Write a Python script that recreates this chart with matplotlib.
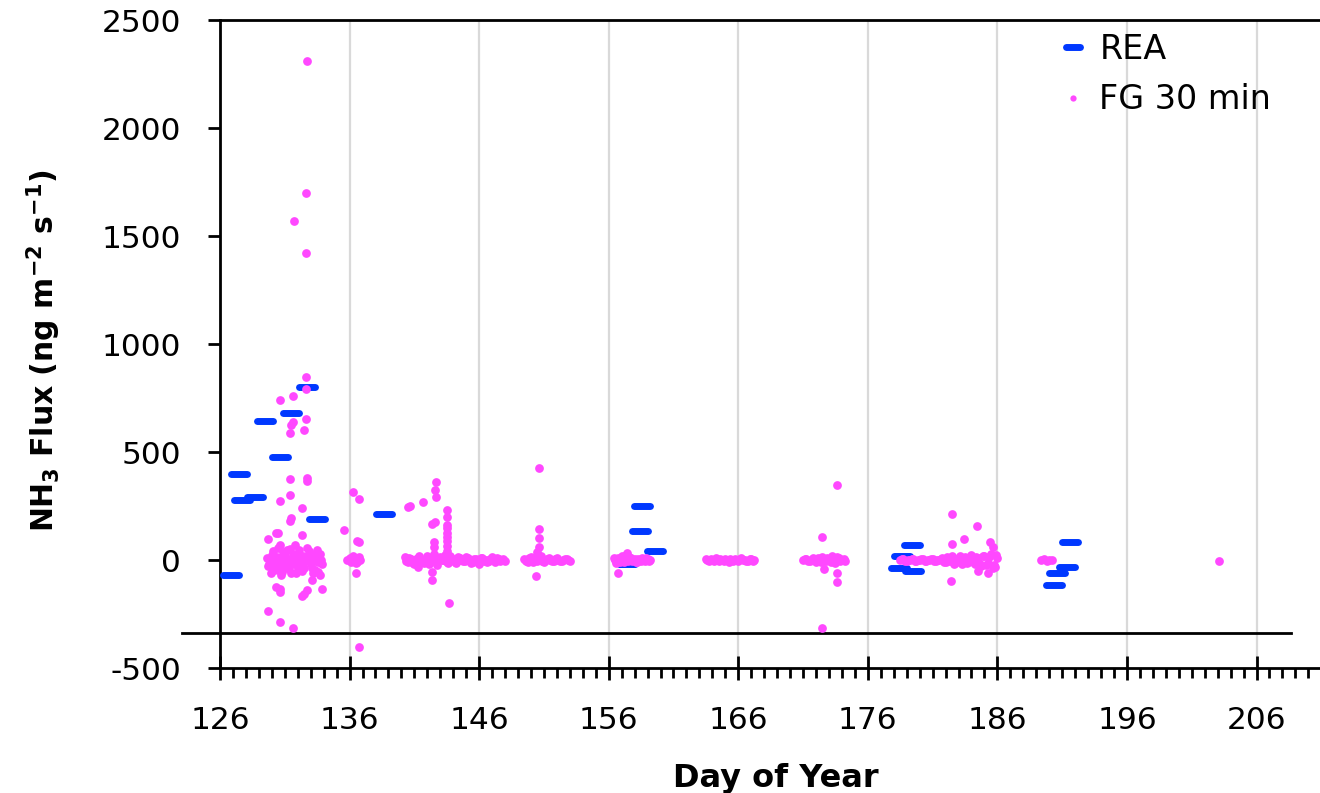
import matplotlib.pyplot as plt
from matplotlib.lines import Line2D
from matplotlib.markers import MarkerStyle
from matplotlib.ticker import MultipleLocator

# REA flux (one value per sampling period)
rea_day = [126.85, 127.5, 127.7, 128.7, 129.5, 130.6, 131.5, 132.7, 133.5,
           138.65, 157.4, 158.4, 158.6, 159.6, 178.4, 178.6, 179.4, 179.5,
           190.4, 190.6, 191.4, 191.6]
rea_flux = [-70, 400, 276, 290, 643, 475, 682, 800, 190,
            213, -19, 133, 251, 40, -36, 18, 71, -49,
            -117, -62, -31, 83]

# FG 30 min flux, read per measurement period
fg1_day = [132.7, 132.6, 131.7, 132.6, 132.6, 132.6, 130.6, 131.6, 131.6, 131.5,
           132.6, 131.4, 132.5, 132.7, 132.7, 131.4, 131.4, 130.6, 132.3, 131.5,
           131.4, 132.3, 130.5, 130.3, 129.7, 130.6, 131.8, 131.4, 130.3, 130.6,
           130.6, 133.1, 132.7, 132.3, 132.5, 133.9, 129.7, 130.6, 131.6, 130.7,
           133.6, 133.7, 130.2, 131.9,
           129.6, 129.8, 130.0, 130.2, 130.4, 130.6, 130.8, 131.0, 131.2, 131.4,
           131.6, 131.8, 132.0, 132.2, 132.4, 132.6, 132.8, 133.0, 133.2, 133.4,
           133.6, 133.8, 129.7, 130.1, 130.5, 130.9, 131.3, 131.7, 132.1, 132.5,
           132.9, 133.3, 133.7, 130.0, 131.0, 132.0, 133.0,
           129.9, 130.4, 130.8, 131.2, 131.5, 131.9, 132.3, 132.7, 133.1, 133.5,
           133.9, 130.5, 131.1, 132.2, 133.2]
fg1_flux = [2311, 1701, 1570, 1420, 847, 791, 743, 759, 640, 625,
            652, 586, 602, 380, 368, 373, 303, 275, 243, 195,
            181, 116, 124, 124, 98, 68, 70, 50, -126, -134,
            -150, -94, -137, -167, -157, -133, -237, -285, -317, -70,
            -56, -70, -44, -60,
            10, -20, 25, -5, 15, -30, 5, 20, -15, 0,
            30, -10, 10, -25, 20, -5, 15, -20, 5, 25,
            -10, 0, -30, 40, -45, 35, -40, -20, 45, -35,
            40, -45, 30, -15, -30, -40, 30,
            -60, -20, -55, 45, -60, 20, -50, 55, -35, 45,
            -20, 55, 10, 5, -60]

fg2_day = [136.3, 136.7, 135.6, 136.6, 136.7, 136.5, 136.7,
           135.8, 136.0, 136.2, 136.4, 136.6, 136.8, 136.3, 136.5, 136.1, 136.7]
fg2_flux = [316, 282, 139, 89, 82, -62, -404,
            0, 10, -5, 5, -10, 0, 20, -15, -10, 15]

fg3_day = [140.5, 140.7, 141.7, 142.7, 142.6, 142.7, 142.4, 142.6, 143.5, 143.5,
           143.5, 143.5, 143.5, 142.5, 142.5, 142.4, 142.4, 143.7, 141.3, 143.5,
           143.5, 143.5, 143.5, 142.5,
           140.25, 140.5, 140.75, 141.0, 141.25, 141.5, 141.75, 142.0, 142.25, 142.5,
           142.75, 143.0, 143.25, 143.5, 143.75, 144.0, 144.25, 144.5, 144.75, 145.0,
           145.25, 145.5, 145.75, 146.0, 146.25, 146.5, 146.75, 147.0, 147.25, 147.5,
           147.75, 148.0,
           140.375, 140.625, 140.875, 141.125, 141.375, 141.625, 141.875, 142.125,
           142.375, 142.625, 142.875, 143.125, 143.375, 143.625, 143.875, 144.125,
           144.375, 144.625, 144.875, 145.125, 145.375, 145.625, 145.875, 146.125,
           146.375, 146.625, 146.875, 147.125, 147.375, 147.625, 147.875]
fg3_flux = [244, 250, 270, 363, 324, 290, 167, 175, 231, 198,
            126, 89, 66, 85, 62, -54, -93, -198, -31, 160,
            40, 105, 150, 30,
            15, -10, 5, -20, 10, 0, -15, 20, -5, 10,
            -25, 15, 0, -10, 20, 5, -15, 10, -5, 15,
            0, -10, 5, -20, 10, 0, -5, 15, -10, 5,
            0, -5,
            -5, 10, -15, 5, 20, -10, 0, -20,
            15, -5, 10, 0, 25, -15, 5, -10,
            15, 0, -5, 10, -15, 5, 0, 10,
            -5, -10, 5, 0, 10, -5, 5]

fg4_day = [150.6, 150.6, 150.6, 150.6, 150.5, 150.4,
           149.5, 149.75, 150.0, 150.25, 150.5, 150.75, 151.0, 151.25, 151.5, 151.75,
           152.0, 152.25, 152.5, 152.75, 153.0,
           149.625, 149.875, 150.125, 150.375, 150.625, 150.875, 151.125, 151.375,
           151.625, 151.875, 152.125, 152.375, 152.625, 152.875]
fg4_flux = [424, 144, 100, 62, 39, -73,
            5, -10, 15, 0, -5, 20, -10, 5, 0, -5,
            10, -5, 0, 5, -5,
            -5, 10, -10, 5, 15, -5, 0, 10,
            -5, 5, 0, -5, 5, 0]

fg5_day = [156.7, 157.4,
           156.4, 156.6, 156.8, 157.0, 157.2, 157.4, 157.6, 157.8, 158.0, 158.2,
           158.4, 158.6, 158.8, 159.0, 159.2,
           156.5, 156.7, 156.9, 157.1, 157.3, 157.5, 157.7, 157.9, 158.1, 158.3,
           158.5, 158.7, 158.9, 159.1]
fg5_flux = [-62, 31,
            10, -15, 5, 20, -10, 0, 15, -5, 5, -10,
            0, 10, -5, 5, 0,
            0, 10, -10, 5, 25, -5, 10, 0, -10, 5,
            -5, 0, 10, -5]

fg6_day = [163.5, 163.75, 164.0, 164.25, 164.5, 164.75, 165.0, 165.25, 165.5, 165.75,
           166.0, 166.25, 166.5, 166.75, 167.0, 167.25,
           163.625, 163.875, 164.125, 164.375, 164.625, 164.875, 165.125, 165.375,
           165.625, 165.875, 166.125, 166.375, 166.625, 166.875, 167.125]
fg6_flux = [5, -5, 0, 10, -5, 0, 5, -10, 0, 5,
            -5, 10, 0, -5, 5, 0,
            0, 5, -5, 0, 5, -5, 0, 5,
            -5, 0, 5, 0, -5, 5, -5]

fg7_day = [173.6, 172.5, 172.6, 173.6, 173.6, 172.5,
           171.0, 171.25, 171.5, 171.75, 172.0, 172.25, 172.5, 172.75, 173.0, 173.25,
           173.5, 173.75, 174.0, 174.25,
           171.125, 171.375, 171.625, 171.875, 172.125, 172.375, 172.625, 172.875,
           173.125, 173.375, 173.625, 173.875, 174.125]
fg7_flux = [346, 108, -42, -62, -100, -316,
            0, 5, -5, 10, -10, 0, 15, -5, 5, 20,
            -15, 10, 0, -5,
            5, -5, 0, 5, 10, -10, -5, 10,
            -10, 5, 15, -5, 5]

fg8_day = [182.5, 184.4, 183.4, 182.5, 185.4, 185.7, 182.4, 184.5, 185.3, 185.8,
           178.5, 178.75, 179.0, 179.25, 179.5, 179.75, 180.0, 180.25, 180.5, 180.75,
           181.0, 181.25, 181.5, 181.75, 182.0, 182.25, 182.5, 182.75, 183.0, 183.25,
           183.5, 183.75, 184.0, 184.25, 184.5, 184.75, 185.0, 185.25, 185.5, 185.75,
           186.0,
           178.625, 178.875, 179.125, 179.375, 179.625, 179.875, 180.125, 180.375,
           180.625, 180.875, 181.125, 181.375, 181.625, 181.875, 182.125, 182.375,
           182.625, 182.875, 183.125, 183.375, 183.625, 183.875, 184.125, 184.375,
           184.625, 184.875, 185.125, 185.375, 185.625, 185.875]
fg8_flux = [213, 157, 96, 75, 85, 62, -99, -49, -62, -31,
            0, 5, -5, 0, 5, -5, 0, 5, -5, 0,
            5, -5, 0, 10, -10, 5, 20, -15, 10, -20,
            15, -10, 25, -20, 10, -30, 20, -15, 30, -25,
            10,
            5, -5, 0, 5, -5, 0, 5, -5,
            0, 5, -5, 0, 5, -10, 15, -5,
            -20, 5, 20, -10, -15, 10, -10, 15,
            -20, 20, -25, 15, -35, 25]

fg9_day = [189.4, 189.6, 189.8, 190.0, 190.2, 203.1]
fg9_flux = [0, 5, -5, 0, 0, -5]

fg_day = fg1_day + fg2_day + fg3_day + fg4_day + fg5_day + fg6_day + fg7_day + fg8_day + fg9_day
fg_flux = fg1_flux + fg2_flux + fg3_flux + fg4_flux + fg5_flux + fg6_flux + fg7_flux + fg8_flux + fg9_flux

blue = '#0038FF'
pink = '#FF48FF'

plt.rcParams['font.family'] = 'DejaVu Sans'
plt.rcParams['mathtext.default'] = 'bf'
plt.rcParams['axes.unicode_minus'] = False

fig = plt.figure(figsize=(13.2, 7.93), dpi=100)
ax = fig.add_axes([220/1320, 125/793, 1100/1320, 648/793])

dash = MarkerStyle('_', capstyle='round')
ax.plot(rea_day, rea_flux, linestyle='none', marker=dash, ms=11, mew=5,
        color=blue, zorder=3)
ax.plot(fg_day, fg_flux, linestyle='none', marker='o', ms=6.3, mew=0,
        color=pink, zorder=4)

ax.set_xlim(126, 210.9)
ax.set_ylim(-500, 2500)
ax.xaxis.set_major_locator(MultipleLocator(10, offset=6))
ax.xaxis.set_minor_locator(MultipleLocator(1))
ax.yaxis.set_major_locator(MultipleLocator(500))
ax.grid(True, axis='x', color='#D9D9D9', lw=1.6)
ax.set_axisbelow(True)

for s in ['left', 'bottom', 'top']:
    ax.spines[s].set_linewidth(2)
ax.spines['right'].set_visible(False)

ax.tick_params(axis='x', which='major', direction='inout', length=17, width=2,
               labelsize=22.5, pad=19)
ax.tick_params(axis='x', which='minor', direction='out', length=7, width=2)
ax.tick_params(axis='y', direction='out', length=9, width=2, labelsize=22.5, pad=19)

# extra horizontal rule across the plot (as in the source figure)
ax.plot([123.1, 208.7], [-340, -340], color='black', lw=2, clip_on=False, zorder=2)

ax.set_xlabel('Day of Year', fontsize=23, fontweight='bold')
ax.xaxis.set_label_coords(0.505, -0.147)
ax.set_ylabel(r'NH$_3$ Flux (ng m$^{-2}$ s$^{-1}$)', fontsize=21.5, fontweight='bold')
ax.yaxis.set_label_coords(-0.143, 0.489)

handles = [Line2D([], [], linestyle='none', marker=dash, ms=10, mew=5, color=blue),
           Line2D([], [], linestyle='none', marker='o', ms=4.5, mew=0, color=pink)]
ax.legend(handles, ['REA', 'FG 30 min'], loc='upper left',
          bbox_to_anchor=(1056/1320, 1 - 33/793), bbox_transform=fig.transFigure,
          frameon=False, fontsize=24, borderpad=0, handlelength=1.0,
          handletextpad=0.3, labelspacing=0.52, borderaxespad=0)

fig.savefig('out.png', dpi=100)
